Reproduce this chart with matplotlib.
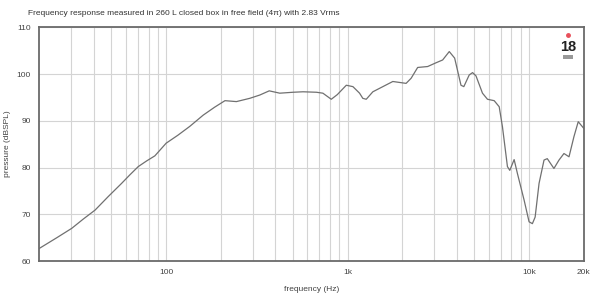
import matplotlib
matplotlib.use("Agg")
import matplotlib.pyplot as plt
from matplotlib.ticker import FixedLocator, NullFormatter
import numpy as np

plt.rcParams['font.family'] = ['Liberation Sans', 'DejaVu Sans']

# Frequency response
freq_hz = [20, 25, 30.2, 35, 40.6, 48, 56.8, 63, 70.2, 78, 86.7, 100, 116, 135,
           160, 185, 211, 244, 289, 328, 370, 423, 501, 568, 673, 731, 813, 878,
           940, 984, 1070, 1164, 1213, 1267, 1378, 1564, 1775, 2101, 2240, 2433,
           2762, 3070, 3340, 3633, 3890, 4215, 4370, 4680, 4883, 5100, 5537, 5900,
           6424, 6846, 7135, 7600, 7830, 8275, 8630, 9395, 10000, 10430, 10800,
           11350, 12090, 12600, 13710, 14620, 15570, 16600, 17670, 18660, 20000]
spl_db = [62.7, 65.0, 67.0, 69.0, 70.9, 73.8, 76.6, 78.4, 80.2, 81.4, 82.5, 85.2, 86.9, 88.8,
          91.2, 92.9, 94.3, 94.1, 94.8, 95.5, 96.4, 95.9, 96.1, 96.2, 96.1, 95.9, 94.6, 95.6,
          96.8, 97.6, 97.3, 95.9, 94.8, 94.6, 96.2, 97.3, 98.4, 98.0, 99.1, 101.4,
          101.6, 102.4, 103.0, 104.8, 103.4, 97.6, 97.3, 99.8, 100.3, 99.6, 95.9, 94.6,
          94.3, 93.0, 88.7, 80.2, 79.4, 81.7, 78.7, 73.0, 68.4, 68.0, 69.4,
          76.6, 81.6, 81.9, 79.8, 81.6, 83.0, 82.3, 86.6, 89.8, 88.4]

x_ticks = [100, 1000, 10000, 20000]
x_labels = ['100', '1k', '10k', '20k']
y_ticks = [60, 70, 80, 90, 100, 110]

fig = plt.figure(figsize=(5.95, 2.93), dpi=100)
ax = fig.add_axes([0.066, 0.109, 0.915, 0.798])

ax.semilogx(freq_hz, spl_db, color='#707070', lw=0.9)

ax.set_xlim(20, 20000)
ax.set_ylim(60, 110)

minor = [m * d for d in (10, 100, 1000, 10000) for m in range(2, 10) if 20 < m * d < 20000]
ax.xaxis.set_major_locator(FixedLocator(x_ticks))
ax.xaxis.set_minor_locator(FixedLocator(minor))
ax.xaxis.set_minor_formatter(NullFormatter())
ax.set_xticklabels(x_labels)
ax.set_yticks(y_ticks)

ax.grid(which='both', axis='x', color='#d4d4d4', lw=0.8)
ax.grid(which='major', axis='y', color='#d4d4d4', lw=0.8)
ax.tick_params(which='both', length=0, labelsize=6, colors='#444444', pad=6)

for s in ax.spines.values():
    s.set_color('#6a6a6a')
    s.set_linewidth(1.3)

ax.set_xlabel('frequency (Hz)', fontsize=6, color='#444444', labelpad=7)
ax.set_ylabel('pressure (dBSPL)', fontsize=6, color='#444444', labelpad=4)

fig.text(0.047, 0.955, 'Frequency response measured in 260 L closed box in free field (4\u03c0) with 2.83 Vrms',
         fontsize=6, color='#333333', va='center')

# logo
ax.plot([0.971], [0.967], 'o', color='#e8505b', ms=2.5, transform=ax.transAxes)
ax.text(0.971, 0.915, '18', transform=ax.transAxes, ha='center', va='center',
        fontsize=10.5, fontweight='bold', color='#222222',
        family=['Liberation Sans Narrow', 'Liberation Sans'])
ax.add_patch(plt.Rectangle((0.962, 0.866), 0.018, 0.014, transform=ax.transAxes,
                           color='#999999', lw=0))

fig.savefig('out.png', dpi=100)
